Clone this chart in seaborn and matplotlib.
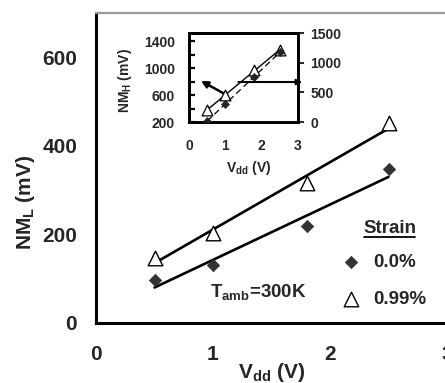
import numpy as np
import pandas as pd
import matplotlib
matplotlib.use("Agg")
import matplotlib.pyplot as plt
from matplotlib.lines import Line2D
from matplotlib.ticker import MultipleLocator, FixedLocator
import seaborn as sns

# ---- data ----
vdd = [0.5, 1.0, 1.8, 2.5]
nml_strain0 = [97, 131, 219, 348]      # 0.0 % strain (diamonds)
nml_strain099 = [147, 203, 316, 452]   # 0.99 % strain (triangles)
inset_nmh_099 = [378, 600, 970, 1267]  # inset, left axis (triangles)
inset_nmh_0 = [20, 303, 758, 1180]     # inset, right axis (diamonds)
strain_labels = ["0.0%", "0.99%"]
inset_left_ticks = [200, 600, 1000, 1400]

sns.set_style("white")
plt.rcParams["font.family"] = ["Liberation Sans", "DejaVu Sans"]
plt.rcParams["font.weight"] = "bold"
plt.rcParams["axes.labelweight"] = "bold"
plt.rcParams["mathtext.default"] = "regular"

fig = plt.figure(figsize=(4.45, 3.83), dpi=100)
W, H = 445, 383

def rect(x0, x1, ytop, ybot):
    return [x0 / W, 1 - ybot / H, (x1 - x0) / W, (ybot - ytop) / H]

ax = fig.add_axes(rect(96, 447, 13, 323))
df = pd.DataFrame({"vdd": vdd, "s0": nml_strain0, "s1": nml_strain099})

sns.regplot(data=df, x="vdd", y="s1", ci=None, scatter=False, ax=ax,
            line_kws=dict(color="black", lw=1.9))
sns.regplot(data=df, x="vdd", y="s0", ci=None, scatter=False, ax=ax,
            line_kws=dict(color="black", lw=1.9))
sns.scatterplot(data=df, x="vdd", y="s0", marker="D", s=40, color="#333333",
                edgecolor="#333333", ax=ax, label=strain_labels[0], zorder=5)
sns.scatterplot(data=df, x="vdd", y="s1", marker="^", s=110, facecolor="white",
                edgecolor="black", linewidth=1.0, ax=ax, label=strain_labels[1], zorder=5)

ax.set_xlim(0, 3)
ax.set_ylim(0, 700)
ax.xaxis.set_major_locator(MultipleLocator(1))
ax.xaxis.set_minor_locator(MultipleLocator(0.5))
ax.yaxis.set_major_locator(MultipleLocator(200))
ax.yaxis.set_minor_locator(MultipleLocator(100))
ax.tick_params(axis="both", which="both", direction="in", width=1.8, color="black")
ax.tick_params(axis="both", which="major", length=7, labelsize=15)
ax.tick_params(axis="both", which="minor", length=5)
ax.tick_params(axis="y", which="major", pad=13.5)
ax.tick_params(axis="x", which="major", pad=16)
for lab in ax.get_xticklabels() + ax.get_yticklabels():
    lab.set_fontweight("bold")

ax.spines["right"].set_visible(False)
ax.spines["top"].set_color("#999999")
ax.spines["top"].set_linewidth(1.6)
for s in ["left", "bottom"]:
    ax.spines[s].set_color("black")
    ax.spines[s].set_linewidth(2.2)

ax.set_xlabel("V$_{dd}$ (V)", fontsize=15, fontweight="bold")
ax.set_ylabel("NM$_L$ (mV)", fontsize=15, fontweight="bold")
ax.xaxis.set_label_coords(0.5, -0.122)
ax.yaxis.set_label_coords(-0.168, 0.39)

ax.text(0.325, 0.10, "T$_{amb}$=300K", transform=ax.transAxes, fontsize=13.5,
        fontweight="bold", va="center", ha="left")
ax.text(0.838, 0.306, "Strain", transform=ax.transAxes, fontsize=13.5,
        fontweight="bold", va="center", ha="center")
ax.add_line(Line2D([(364 - 96) / 351, (415 - 96) / 351], [(323 - 237) / 310] * 2,
                   transform=ax.transAxes, color="black", lw=1.3))

leg = ax.legend(loc="upper left", bbox_to_anchor=((340 - 96) / 351, (323 - 254) / 310),
                frameon=False, fontsize=13.5, handlelength=1.2, handletextpad=0.6,
                labelspacing=1.05, borderaxespad=0, borderpad=0)
for t in leg.get_texts():
    t.set_fontweight("bold")

# ---- inset ----
axin = fig.add_axes(rect(189, 298, 33, 122))
axin2 = axin.twinx()
dfi = pd.DataFrame({"vdd": vdd, "h1": inset_nmh_099, "h0": inset_nmh_0})

sns.regplot(data=dfi, x="vdd", y="h1", ci=None, scatter=False, ax=axin,
            line_kws=dict(color="black", lw=1.0))
sns.scatterplot(data=dfi, x="vdd", y="h1", marker="^", s=60, facecolor="white",
                edgecolor="black", linewidth=0.9, ax=axin, zorder=5, legend=False)
sns.regplot(data=dfi, x="vdd", y="h0", ci=None, scatter=False, ax=axin2,
            line_kws=dict(color="black", lw=0.9, ls=(0, (5, 3))))
sns.scatterplot(data=dfi, x="vdd", y="h0", marker="D", s=18, color="#222222",
                edgecolor="#222222", ax=axin2, zorder=4, legend=False)

axin.set_xlim(0, 3)
axin.set_ylim(200, 1520)
axin2.set_ylim(0, 1500)
axin.xaxis.set_major_locator(MultipleLocator(1))
axin.xaxis.set_minor_locator(MultipleLocator(0.5))
axin.yaxis.set_major_locator(FixedLocator(inset_left_ticks))
axin.yaxis.set_minor_locator(MultipleLocator(200))
axin2.yaxis.set_major_locator(MultipleLocator(500))
axin.tick_params(axis="both", which="both", direction="in", width=1.6, color="black")
axin.tick_params(axis="both", which="major", length=4, labelsize=10)
axin.tick_params(axis="both", which="minor", length=4)
axin.tick_params(axis="y", pad=10)
axin.tick_params(axis="x", pad=12.5)
axin2.tick_params(axis="y", direction="out", length=4, width=1.2, labelsize=10, pad=5,
                  color="black")
for lab in axin.get_xticklabels() + axin.get_yticklabels() + axin2.get_yticklabels():
    lab.set_fontweight("bold")
for a in (axin, axin2):
    for s in a.spines.values():
        s.set_color("black")
        s.set_linewidth(2.0)
axin.set_xlabel("V$_{dd}$ (V)", fontsize=10, fontweight="bold")
axin.set_ylabel("NM$_H$ (mV)", fontsize=10, fontweight="bold")
axin2.set_ylabel("")
axin.xaxis.set_label_coords(0.55, -0.42)
axin.yaxis.set_label_coords(-0.50, 0.47)

axin.annotate("", xy=(0.33, 810), xytext=(0.95, 625),
              arrowprops=dict(arrowstyle="-|>", color="black", lw=1.8,
                              mutation_scale=10, shrinkA=0, shrinkB=0))
axin.annotate("", xy=(3.12, 793), xytext=(1.36, 793), annotation_clip=False,
              arrowprops=dict(arrowstyle="-|>", color="black", lw=1.5,
                              mutation_scale=8, shrinkA=0, shrinkB=0))

fig.savefig("out.png", dpi=100)
